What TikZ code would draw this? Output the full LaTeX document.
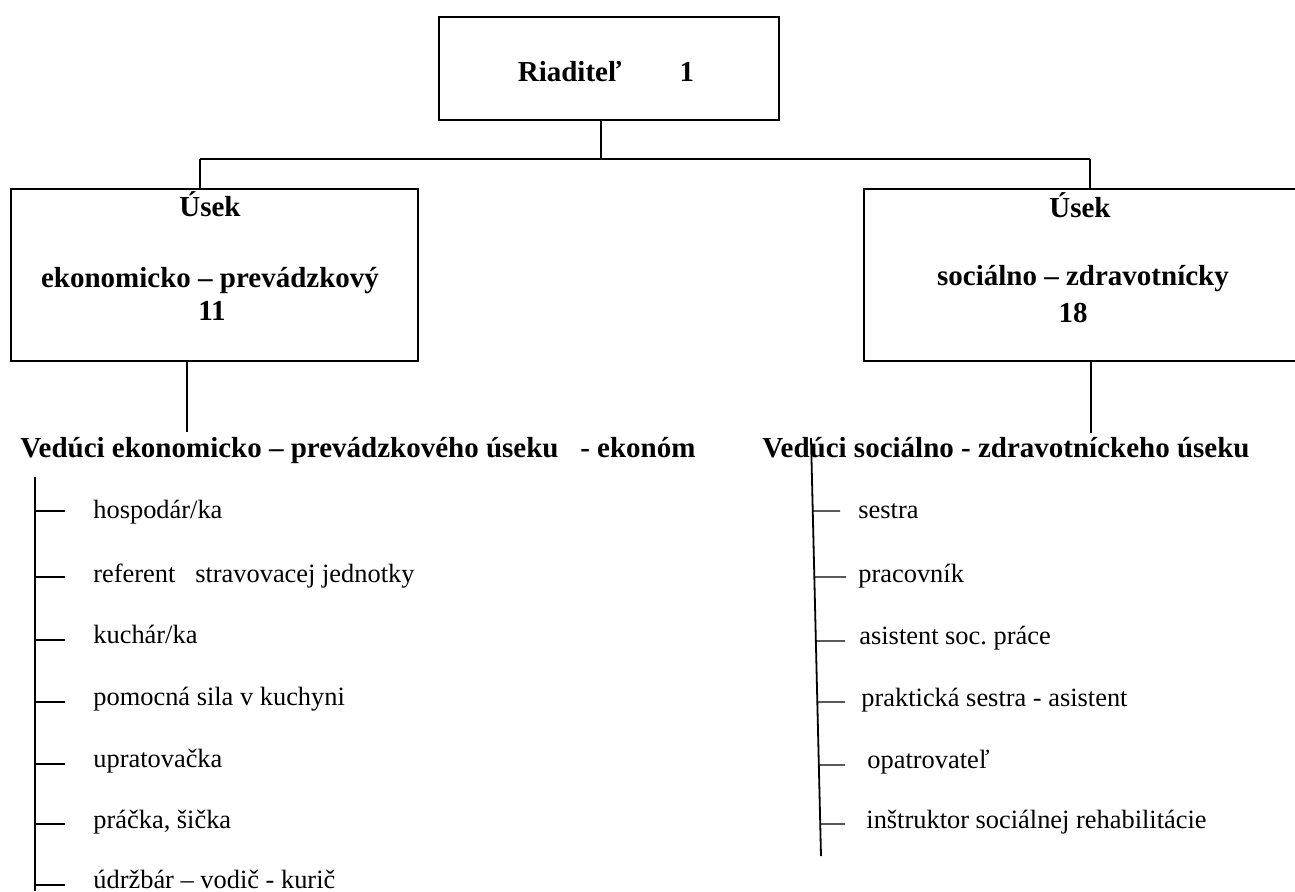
\documentclass[tikz,border=0pt]{standalone}
\usepackage{fontspec}
\setmainfont{Liberation Serif}
\usetikzlibrary{calc}
\frenchspacing
\tikzset{
  orgbox/.style={draw, line width=0.9pt, inner sep=0pt},
  conn/.style={line width=0.6pt},
  treeline/.style={line width=0.9pt},
  tick/.style={line width=0.7pt},
  boldtxt/.style={inner sep=0pt, font=\fontsize{14.5}{17}\selectfont\bfseries},
  itemtxt/.style={inner sep=0pt, anchor=base west, font=\fontsize{13.2}{16}\selectfont},
}
\begin{document}
\begin{tikzpicture}[x=0.5pt,y=-0.5pt]
\useasboundingbox (0,0) rectangle (1295,891);
\clip (0,0) rectangle (1295,891);

% boxes
\node[orgbox, minimum width=170pt, minimum height=51.5pt] (top) at (609,68.5) {};
\node[orgbox, minimum width=203.5pt, minimum height=86pt] (left) at (214.5,275) {};
\node[orgbox, minimum width=218pt, minimum height=86pt] (right) at (1082,275) {};

% box texts
\node[boldtxt, anchor=base] (toptxt) at (606,81) {Riaditeľ\hspace{2em}1};
\node[boldtxt, anchor=base] (lt1) at (210,216) {Úsek};
\node[boldtxt, anchor=base] (lt2) at (210,287) {ekonomicko – prevádzkový};
\node[boldtxt, anchor=base] (lt3) at (212,320) {11};
\node[boldtxt, anchor=base] (rt1) at (1080,217) {Úsek};
\node[boldtxt, anchor=base] (rt2) at (1083,285) {sociálno – zdravotnícky};
\node[boldtxt, anchor=base] (rt3) at (1073,322) {18};

% top connectors
\coordinate (j) at (601,159);
\coordinate (hl) at (200,159);
\coordinate (hr) at (1090,159);
\draw[conn] (j |- top.south) -- (j);
\draw[conn] (hl) -- (hr);
\draw[conn] (hl) -- (hl |- left.north);
\draw[conn] (hr) -- (hr |- right.north);

% headers
\node[boldtxt, anchor=base west] (lhead) at (20,457) {Vedúci ekonomicko – prevádzkového úseku\ \ \ - ekonóm};
\node[boldtxt, anchor=base west] (rhead) at (762,457) {Vedúci sociálno - zdravotníckeho úseku};

\coordinate (lc) at (187,432);
\coordinate (rc) at (1091,433);
\draw[conn] (lc |- left.south) -- (lc);
\draw[conn] (rc |- right.south) -- (rc);

% left tree
\coordinate (ltop) at (35,477);
\coordinate (lbot) at (35,891);
\draw[treeline] (ltop) -- (lbot);
\foreach \n/\ty/\by/\t in {1/511/518/{hospodár/ka},
  2/577/582/{referent\ \ \ stravovacej jednotky},
  3/640/643/{kuchár/ka},
  4/702/705/{pomocná sila v kuchyni},
  5/764/767/{upratovačka},
  6/824/828/{práčka, šička},
  7/885/888/{údržbár – vodič - kurič}}{
  \node[itemtxt] (li\n) at (93,\by) {\t};
  \coordinate (lk\n) at (65,\ty);
  \draw[tick] (ltop |- lk\n) -- (lk\n);
}

% right tree (slightly slanted)
\coordinate (rtop) at (811,438);
\coordinate (rbot) at (821,856);
\draw[treeline] (rtop) -- (rbot);
\foreach \n/\ty/\by/\tx/\ex/\t in {1/511/518/858/840/{sestra},
  2/577/582/858/846/{pracovník},
  3/641/644/859/845/{asistent soc. práce},
  4/702/706/861/845/{praktická sestra - asistent},
  5/765/768/867/845/{opatrovateľ},
  6/824/828/866/845/{inštruktor sociálnej rehabilitácie}}{
  \node[itemtxt] (ri\n) at (\tx,\by) {\t};
  \coordinate (rk\n) at (\ex,\ty);
  \pgfmathsetmacro{\fr}{(\ty-438)/418}
  \draw[tick] ($(rtop)!\fr!(rbot)$) -- (rk\n);
}
\end{tikzpicture}
\end{document}
